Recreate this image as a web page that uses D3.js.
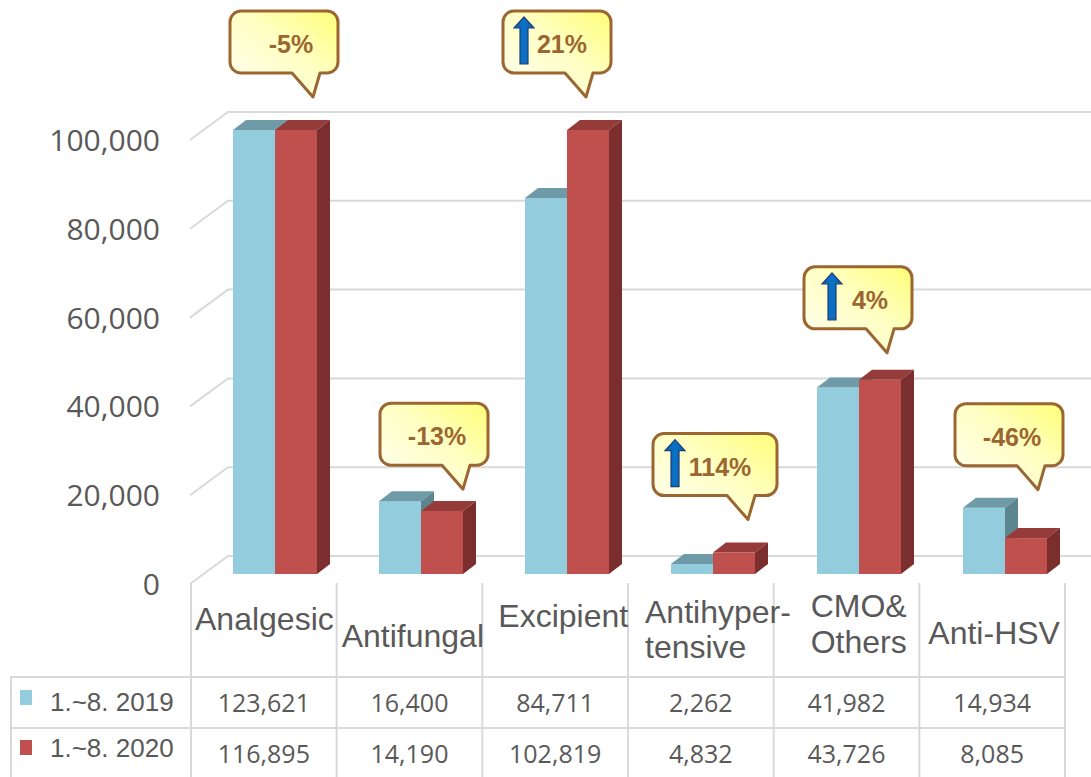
<!DOCTYPE html>
<html>
<head>
<meta charset="utf-8">
<script src="https://cdn.jsdelivr.net/npm/d3@7"></script>
<style>
  html, body { margin: 0; padding: 0; background: #ffffff; }
  svg { display: block; }
</style>
</head>
<body>
<svg id="chart" width="1091" height="777"></svg>
<script>
// ---- data ----
const categories = ["Analgesic", "Antifungal", "Excipient", "Antihypertensive", "CMO& Others", "Anti-HSV"];
const categoryLines = [["Analgesic"], ["Antifungal"], ["Excipient"], ["Antihyper-", "tensive"], ["CMO&", "Others"], ["Anti-HSV"]];
const seriesNames = ["1.~8. 2019", "1.~8. 2020"];
const values2019 = [123621, 16400, 84711, 2262, 41982, 14934];
const values2020 = [116895, 14190, 102819, 4832, 43726, 8085];
const yTickValues = [0, 20000, 40000, 60000, 80000, 100000];

// ---- layout ----
const W = 1091, H = 777;
const colors = {
  s0: { front: "#93cddd", top: "#6e9ba7", side: "#5d8590" },
  s1: { front: "#c0504d", top: "#953c3a", side: "#7a2e2d" }
};
const grid = "#d9d9d9", textGray = "#595959";
const depth = { bx: 13, by: -10 };          // bar top/side offset
const wall = { fx: 190, bx: 228, dy: 10, by: -18, right: W }; // floor edge / back wall
const barW = 42, barInset = 28;
// per-category label placement (offset from column start, baselines)
const labelLayout = [
  { dx: 4, base: [630] }, { dx: 5, base: [647] }, { dx: 16, base: [627] },
  { dx: 17, base: [623, 658] }, { dx: 37, base: [617, 653] }, { dx: 9, base: [644] }
];
// per-category callout placement: tip offset from band start, gap above bars, text shift, arrow shift
const calloutLayout = [
  { tipDx: 108, gap: 23, textDx: 7, arrowDx: 12 },
  { tipDx: 112, gap: 2, textDx: 3, arrowDx: 12 },
  { tipDx: 89, gap: 23, textDx: 5, arrowDx: 11 },
  { tipDx: 105, gap: 23, textDx: 5, arrowDx: 12 },
  { tipDx: 98, gap: 17, textDx: 12, arrowDx: 18 },
  { tipDx: 103, gap: 8, textDx: 3, arrowDx: 12 }
];

const svg = d3.select("#chart");
const defs = svg.append("defs");

const fill = defs.append("linearGradient").attr("id", "calloutFill")
  .attr("x1", 0).attr("y1", 1).attr("x2", 1).attr("y2", 0);
fill.append("stop").attr("offset", "0%").attr("stop-color", "#fffff4");
fill.append("stop").attr("offset", "55%").attr("stop-color", "#ffffc4");
fill.append("stop").attr("offset", "100%").attr("stop-color", "#ffff78");

const arrowFill = defs.append("linearGradient").attr("id", "arrowFill")
  .attr("x1", 0).attr("y1", 0).attr("x2", 1).attr("y2", 0);
arrowFill.append("stop").attr("offset", "0%").attr("stop-color", "#0b5fad");
arrowFill.append("stop").attr("offset", "50%").attr("stop-color", "#0a72c8");
arrowFill.append("stop").attr("offset", "100%").attr("stop-color", "#0b5fad");

// ---- scales ----
const yBar = d3.scaleLinear().domain([0, 100000]).range([574, 130]).clamp(true);
const xBar = d3.scaleBand().domain(categories).range([205, 205 + 146 * categories.length]);
const xCol = d3.scaleBand().domain(categories).range([191, 1065]);

// ---- gridlines (back wall + left floor diagonal) ----
const gGrid = svg.append("g").attr("stroke", grid).attr("stroke-width", 2).attr("fill", "none");
yTickValues.forEach(v => {
  const yf = yBar(v) + wall.dy, yb = yBar(v) + wall.by;
  gGrid.append("path").attr("d", `M${wall.fx},${yf} L${wall.bx},${yb} H${wall.right}`);
});

// ---- y axis labels ----
const fmt = d3.format(",");
const yAxis = d3.axisLeft(d3.scaleLinear().domain([0, 100000]).range([yBar(0) + wall.dy, yBar(100000) + wall.dy]))
  .tickValues(yTickValues).tickFormat(fmt).tickSize(0).tickPadding(0);
const gAxis = svg.append("g").attr("transform", "translate(160,0)").call(yAxis);
gAxis.select(".domain").remove();
gAxis.selectAll("text")
  .attr("font-family", "'Open Sans', sans-serif").attr("font-size", 30)
  .attr("fill", textGray).attr("dy", "0.35em");

// ---- 3D bars ----
const series = [values2019, values2020];
const gBars = svg.append("g");
categories.forEach((c, i) => {
  series.forEach((vals, s) => {
    const col = s === 0 ? colors.s0 : colors.s1;
    const x0 = xBar(c) + barInset + s * barW;
    const yt = yBar(vals[i]), yb = yBar(0);
    gBars.append("rect").attr("x", x0).attr("y", yt).attr("width", barW).attr("height", yb - yt)
      .attr("fill", col.front);
    gBars.append("path")
      .attr("d", `M${x0},${yt} L${x0 + depth.bx},${yt + depth.by} H${x0 + barW + depth.bx} L${x0 + barW},${yt} Z`)
      .attr("fill", col.top);
    gBars.append("path")
      .attr("d", `M${x0 + barW},${yt} L${x0 + barW + depth.bx},${yt + depth.by} V${yb + depth.by} L${x0 + barW},${yb} Z`)
      .attr("fill", col.side);
  });
});

// ---- change callouts ----
const gCall = svg.append("g");
categories.forEach((c, i) => {
  const L = calloutLayout[i];
  const change = Math.round((values2020[i] / values2019[i] - 1) * 100);
  const up = change > 0;
  const label = up ? `${change}%` : `${change}%`;
  const topVal = Math.max(values2019[i], values2020[i]);
  const tx = xBar(c) + L.tipDx;
  const ty = yBar(topVal) + depth.by - L.gap;
  const w = label.length >= 4 && up ? 124 : 108;
  const h = 62, r = 11;
  const bx = tx - (w === 124 ? 95 : 83), by = ty - 24 - h;
  const a = tx - 21, b = tx + 7;
  const d = `M${bx + r},${by} H${bx + w - r} A${r},${r} 0 0 1 ${bx + w},${by + r} V${by + h - r}
    A${r},${r} 0 0 1 ${bx + w - r},${by + h} H${b} L${tx},${ty} L${a},${by + h} H${bx + r}
    A${r},${r} 0 0 1 ${bx},${by + h - r} V${by + r} A${r},${r} 0 0 1 ${bx + r},${by} Z`;
  gCall.append("path").attr("d", d).attr("fill", "url(#calloutFill)")
    .attr("stroke", "#9b6631").attr("stroke-width", 3).attr("stroke-linejoin", "round");
  if (up) {
    const ax = bx + L.arrowDx, ay = by + 6, ab = by + 53;
    gCall.append("path")
      .attr("d", `M${ax + 10},${ay} L${ax + 20},${ay + 11} H${ax + 14} V${ab} H${ax + 6} V${ay + 11} H${ax} Z`)
      .attr("fill", "url(#arrowFill)").attr("stroke", "#1d3f73").attr("stroke-width", 1.2)
      .attr("stroke-linejoin", "miter");
  }
  gCall.append("text").attr("x", bx + w / 2 + L.textDx).attr("y", by + 42)
    .attr("text-anchor", "middle").attr("font-family", "'Liberation Sans', Arial, sans-serif")
    .attr("font-weight", "bold").attr("font-size", 25).attr("fill", "#9b6631").text(label);
});

// ---- category labels + data table ----
const gTable = svg.append("g");
const tableTop = 677, rowMid = 728, tableBottom = 778, catTop = 583, tableLeft = 11;
const lines = gTable.append("g").attr("stroke", grid).attr("stroke-width", 2).attr("fill", "none");
lines.append("path").attr("d", `M${tableLeft},${tableBottom} V${tableTop} H${xCol.range()[1]}`);
lines.append("path").attr("d", `M${tableLeft},${rowMid} H${xCol.range()[1]}`);
const colEdges = categories.map(c => xCol(c)).concat([xCol.range()[1]]);
colEdges.forEach(x => lines.append("path").attr("d", `M${x},${catTop} V${tableBottom}`));

categories.forEach((c, i) => {
  const lay = labelLayout[i];
  categoryLines[i].forEach((t, k) => {
    gTable.append("text").attr("x", xCol(c) + lay.dx).attr("y", lay.base[k])
      .attr("font-family", "'Liberation Sans', Arial, sans-serif").attr("font-size", 32)
      .attr("fill", textGray).text(t);
  });
});

const rowBase = [712, 763];
const legendBase = [711, 757];
const legendBox = [690, 740];
series.forEach((vals, s) => {
  const col = s === 0 ? colors.s0 : colors.s1;
  gTable.append("rect").attr("x", 20).attr("y", legendBox[s]).attr("width", 12).attr("height", 15)
    .attr("fill", col.front);
  gTable.append("text").attr("x", 50).attr("y", legendBase[s])
    .attr("font-family", "'Liberation Sans', Arial, sans-serif").attr("font-size", 26)
    .attr("fill", textGray).text(seriesNames[s]);
  categories.forEach((c, i) => {
    gTable.append("text").attr("x", xCol(c) + xCol.bandwidth() / 2).attr("y", rowBase[s])
      .attr("text-anchor", "middle").attr("font-family", "'Open Sans', sans-serif").attr("font-size", 25)
      .attr("fill", textGray).text(fmt(vals[i]));
  });
});
</script>
</body>
</html>
